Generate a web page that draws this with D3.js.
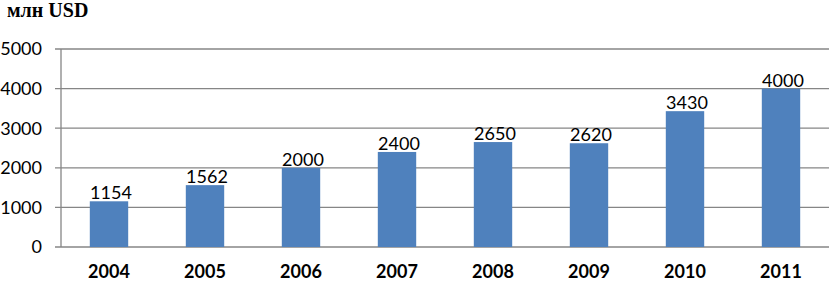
<!DOCTYPE html>
<html>
<head>
<meta charset="utf-8">
<script src="https://cdn.jsdelivr.net/npm/d3@7"></script>
<style>
  body { margin: 0; background: #fff; }
</style>
</head>
<body>
<div id="output"></div>
<script>
const years = ["2004", "2005", "2006", "2007", "2008", "2009", "2010", "2011"];
const values = [1154, 1562, 2000, 2400, 2650, 2620, 3430, 4000];
const yTicks = [0, 1000, 2000, 3000, 4000, 5000];

const width = 830, height = 281;
const margin = { top: 49, right: 1, bottom: 34, left: 61 };

const svg = d3.select("#output")
  .append("svg")
  .attr("width", width)
  .attr("height", height)
  .attr("font-family", "Lato, 'Open Sans', sans-serif");

const x = d3.scaleBand()
  .domain(years)
  .range([margin.left, width - margin.right])
  .paddingInner(0.6)
  .paddingOuter(0.3);

const y = d3.scaleLinear()
  .domain([0, 5000])
  .range([height - margin.bottom, margin.top]);

// gridlines
svg.append("g")
  .selectAll("line")
  .data(yTicks)
  .join("line")
  .attr("x1", margin.left - 6)
  .attr("x2", width - margin.right)
  .attr("y1", d => y(d))
  .attr("y2", d => y(d))
  .attr("stroke", "#868686")
  .attr("stroke-width", 1.3);

// y axis line
svg.append("line")
  .attr("x1", margin.left).attr("x2", margin.left)
  .attr("y1", y(5000)).attr("y2", y(0))
  .attr("stroke", "#868686")
  .attr("stroke-width", 1.3);

// y labels
svg.append("g")
  .selectAll("text")
  .data(yTicks)
  .join("text")
  .attr("x", 42)
  .attr("y", d => y(d))
  .attr("dy", "0.35em")
  .attr("text-anchor", "end")
  .attr("font-size", 18)
  .attr("fill", "#000")
  .text(d => d);

// bars
svg.append("g")
  .selectAll("rect")
  .data(values)
  .join("rect")
  .attr("x", (d, i) => x(years[i]))
  .attr("width", x.bandwidth())
  .attr("y", d => y(d))
  .attr("height", d => y(0) - y(d))
  .attr("fill", "#4F81BD");

// value labels (sit right on the bar top, like the original)
svg.append("g")
  .selectAll("text")
  .data(values)
  .join("text")
  .attr("x", (d, i) => x(years[i]) + x.bandwidth() / 2 + 2)
  .attr("y", d => y(d) - 2)
  .attr("text-anchor", "middle")
  .attr("font-size", 18)
  .attr("fill", "#000")
  .text(d => d);

// x labels
svg.append("g")
  .selectAll("text")
  .data(years)
  .join("text")
  .attr("x", d => x(d) + x.bandwidth() / 2)
  .attr("y", 278)
  .attr("text-anchor", "middle")
  .attr("font-size", 18)
  .attr("font-weight", "bold")
  .attr("fill", "#000")
  .text(d => d);

// unit title
svg.append("text")
  .attr("x", 7)
  .attr("y", 17)
  .attr("font-family", "'Liberation Serif', 'Times New Roman', serif")
  .attr("font-weight", "bold")
  .attr("font-size", 20)
  .attr("fill", "#000")
  .text("млн USD");
</script>
</body>
</html>
